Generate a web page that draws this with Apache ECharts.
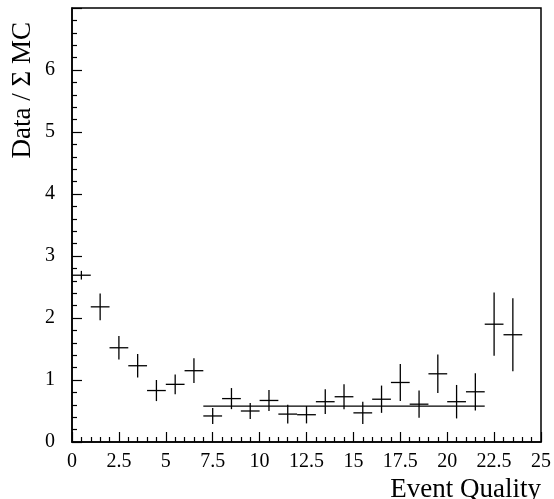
<!DOCTYPE html>
<html>
<head>
<meta charset="utf-8">
<script src="https://cdn.jsdelivr.net/npm/echarts@6/dist/echarts.min.js"></script>
<style>
html,body{margin:0;padding:0;background:#fff;}
#chart{width:554px;height:499px;}
</style>
</head>
<body>
<div id="chart"></div>
<script>
// Bin centers (Event Quality)
var binCenters = [0.5, 1.5, 2.5, 3.5, 4.5, 5.5, 6.5, 7.5, 8.5, 9.5, 10.5, 11.5,
                  12.5, 13.5, 14.5, 15.5, 16.5, 17.5, 18.5, 19.5, 20.5, 21.5, 22.5, 23.5];
var binHalfWidth = 0.5;
// Data / Sum MC ratio
var ratio = [2.69, 2.18, 1.52, 1.23, 0.83, 0.93, 1.15, 0.42, 0.70, 0.50, 0.67, 0.45,
             0.44, 0.65, 0.73, 0.47, 0.69, 0.96, 0.61, 1.10, 0.65, 0.81, 1.90, 1.73];
// Statistical errors
var ratioErr = [0.07, 0.215, 0.19, 0.19, 0.17, 0.16, 0.20, 0.13, 0.17, 0.13, 0.17, 0.15,
                0.14, 0.20, 0.20, 0.18, 0.22, 0.30, 0.22, 0.31, 0.27, 0.30, 0.51, 0.59];
// Constant fit
var fitRange = [7, 22];
var fitValue = 0.58;
// Axis labels
var xTitle = 'Event Quality';
var yTitle = 'Data / \u03A3 MC';

var FONT = "'Liberation Serif', 'DejaVu Serif', serif";

var pointData = binCenters.map(function (x, i) { return [x, ratio[i], ratioErr[i]]; });
var fitData = fitRange.map(function (x) { return [x, fitValue]; });

var chart = echarts.init(document.getElementById('chart'), null, {renderer: 'canvas'});
chart.setOption({
  backgroundColor: '#fff',
  animation: false,
  grid: {
    left: 72, right: 12, top: 8, bottom: 57,
    show: true, borderColor: '#000', borderWidth: 1.5, backgroundColor: '#fff'
  },
  xAxis: {
    type: 'value', min: 0, max: 25, interval: 2.5,
    axisLine: {show: true, onZero: false, lineStyle: {color: '#000', width: 1.5}},
    axisTick: {show: true, inside: true, length: 10, lineStyle: {color: '#000', width: 1.2}},
    minorTick: {show: true, splitNumber: 5, length: 5, lineStyle: {color: '#000', width: 1.2}},
    splitLine: {show: false},
    minorSplitLine: {show: false},
    axisLabel: {color: '#000', fontFamily: FONT, fontSize: 20, margin: 10}
  },
  yAxis: {
    type: 'value', min: 0, max: 7, interval: 1,
    axisLine: {show: true, onZero: false, lineStyle: {color: '#000', width: 1.5}},
    axisTick: {show: true, inside: true, length: 10, lineStyle: {color: '#000', width: 1.2}},
    minorTick: {show: true, splitNumber: 5, length: 5, lineStyle: {color: '#000', width: 1.2}},
    splitLine: {show: false},
    minorSplitLine: {show: false},
    axisLabel: {
      color: '#000', fontFamily: FONT, fontSize: 20, margin: 17,
      formatter: function (v) { return v === 7 ? '' : String(v); }
    }
  },
  graphic: [
    {
      type: 'text', x: 23, y: 22, rotation: Math.PI / 2,
      style: {text: yTitle, fill: '#000', font: '27px ' + FONT, align: 'right', verticalAlign: 'middle'}
    },
    {
      type: 'text', x: 541, y: 490,
      style: {text: xTitle, fill: '#000', font: '27px ' + FONT, align: 'right', verticalAlign: 'middle'}
    }
  ],
  series: [
    {
      type: 'line',
      data: fitData,
      showSymbol: false,
      symbol: 'none',
      lineStyle: {color: '#000', width: 1.2},
      z: 2
    },
    {
      type: 'custom',
      data: pointData,
      z: 3,
      renderItem: function (params, api) {
        var x = api.value(0), y = api.value(1), e = api.value(2);
        var pL = api.coord([x - binHalfWidth, y]);
        var pR = api.coord([x + binHalfWidth, y]);
        var pT = api.coord([x, y + e]);
        var pB = api.coord([x, y - e]);
        var st = {stroke: '#000', lineWidth: 1.3, fill: null};
        return {
          type: 'group',
          children: [
            {type: 'line', shape: {x1: pL[0], y1: pL[1], x2: pR[0], y2: pR[1]}, style: st},
            {type: 'line', shape: {x1: pT[0], y1: pT[1], x2: pB[0], y2: pB[1]}, style: st}
          ]
        };
      }
    }
  ]
});
</script>
</body>
</html>
